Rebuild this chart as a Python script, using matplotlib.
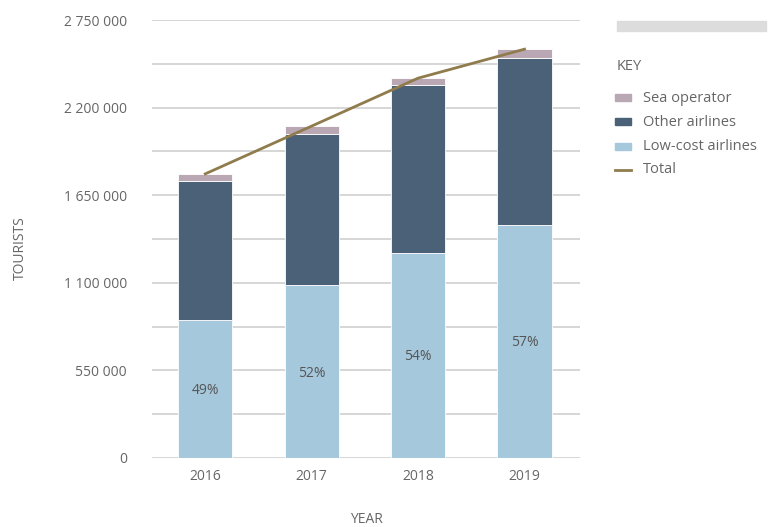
import matplotlib
matplotlib.use("Agg")
import matplotlib.pyplot as plt
from matplotlib.patches import Rectangle
from matplotlib.lines import Line2D
import numpy as np

years = ["2016", "2017", "2018", "2019"]
low_cost = [868000, 1086000, 1290000, 1465000]
other = [872000, 948000, 1050000, 1045000]
sea = [44000, 50000, 45000, 57000]
pct_labels = ["49%", "52%", "54%", "57%"]
yticks = [0, 550000, 1100000, 1650000, 2200000, 2750000]
ytick_labels = ["0", "550 000", "1 100 000", "1 650 000", "2 200 000", "2 750 000"]

c_low = "#a6c8dc"
c_other = "#4a6178"
c_sea = "#b9a8b3"
c_total = "#8f7b4c"
txt = "#666666"

plt.rcParams['font.family'] = ['Open Sans', 'DejaVu Sans']

fig = plt.figure(figsize=(7.68, 5.27), dpi=100)
ax = fig.add_axes([0.198, 0.131, 0.557, 0.831])

x = np.arange(len(years))
low = np.array(low_cost)
oth = np.array(other)
se = np.array(sea)
total = low + oth + se

w = 0.51
ax.bar(x, low, w, color=c_low, edgecolor="white", linewidth=0.6, zorder=3)
ax.bar(x, oth, w, bottom=low, color=c_other, edgecolor="white", linewidth=0.6, zorder=3)
ax.bar(x, se, w, bottom=low + oth, color=c_sea, edgecolor="white", linewidth=0.6, zorder=3)
ax.plot(x, total, color=c_total, linewidth=2, zorder=4)

for xi, l, p in zip(x, low, pct_labels):
    ax.text(xi, l / 2 - 10000, p, ha="center", va="center", fontsize=10, color="#555555", zorder=5)

ax.set_xlim(-0.5, 3.52)
ax.set_ylim(0, 2750000)
ax.set_yticks(yticks)
ax.set_yticklabels(ytick_labels)
ax.set_yticks(np.arange(0, 2750001, 275000), minor=True)
ax.grid(axis="y", which="both", color="#cccccc", linewidth=1.1, zorder=0)
ax.set_xticks(x)
ax.set_xticklabels(years)
ax.tick_params(axis="both", which="both", length=0, labelsize=10, colors=txt)
ax.tick_params(axis="y", pad=18)
ax.tick_params(axis="x", pad=8)
for s in ax.spines.values():
    s.set_visible(False)

fig.text(0.027, 0.53, "TOURISTS", rotation=90, ha="center", va="center", fontsize=10, color=txt)
fig.text(0.477, 0.015, "YEAR", ha="center", va="center", fontsize=10, color=txt)

# header placeholder bar and legend
fig.patches.append(Rectangle((617 / 768, 1 - 31 / 527), 149 / 768, 10 / 527,
                             transform=fig.transFigure, color="#dcdcdc", zorder=1))
fig.text(617 / 768, 1 - 66 / 527, "KEY", ha="left", va="center", fontsize=10.5, color=txt)
entries = [("Sea operator", c_sea, "patch"), ("Other airlines", c_other, "patch"),
           ("Low-cost airlines", c_low, "patch"), ("Total", c_total, "line")]
for i, (lab, col, kind) in enumerate(entries):
    yc = 1 - (98 + 24 * i) / 527
    if kind == "patch":
        fig.patches.append(Rectangle((615 / 768, yc - 3.5 / 527), 16 / 768, 7 / 527,
                                     transform=fig.transFigure, color=col))
    else:
        fig.lines.append(Line2D([615 / 768, 631 / 768], [yc, yc], transform=fig.transFigure,
                                color=col, linewidth=2))
    fig.text(643 / 768, yc, lab, ha="left", va="center", fontsize=10.5, color=txt)

fig.savefig("out.png", dpi=100)
